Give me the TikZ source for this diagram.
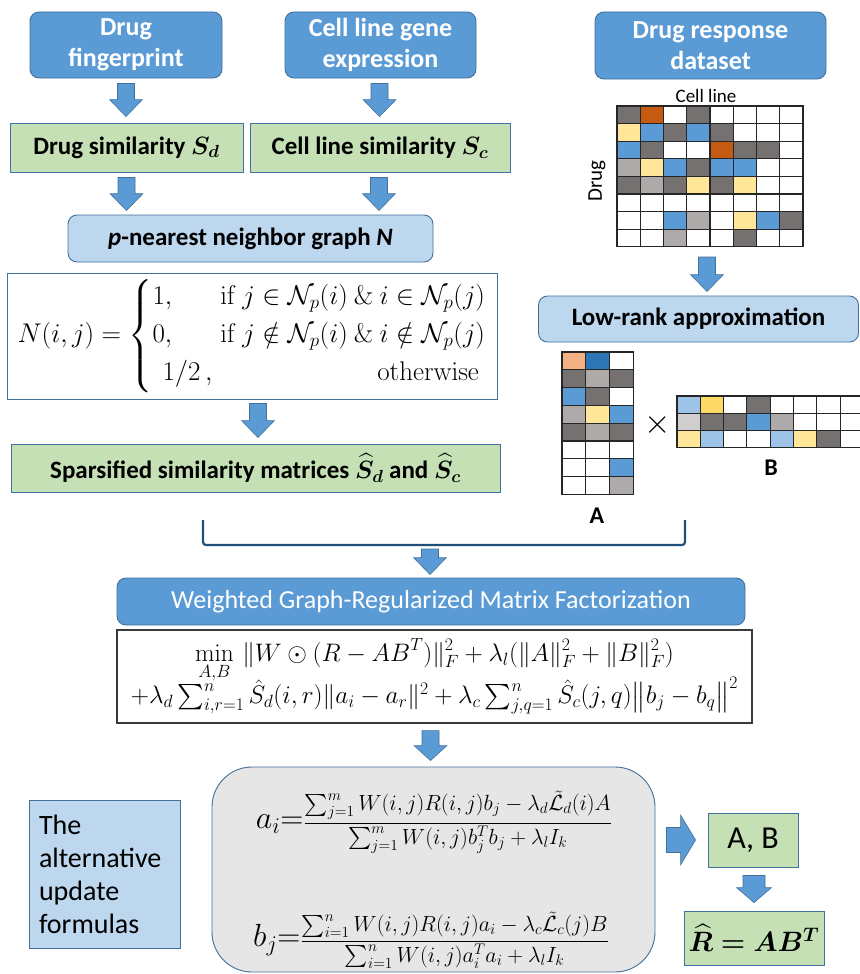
\RequirePackage{fix-cm}
\documentclass[tikz,border=0pt]{standalone}
\usepackage{amsmath,amssymb}
\usepackage{bm}
\usepackage[no-math]{fontspec}
\setmainfont{Carlito}
\usetikzlibrary{calc}
\definecolor{dkb}{HTML}{5B9BD5}
\definecolor{bord}{HTML}{41719C}
\definecolor{ltb}{HTML}{BDD7EE}
\definecolor{grn}{HTML}{C5E0B4}
\definecolor{gry}{HTML}{E7E6E6}
\definecolor{brk}{HTML}{1F4E79}
\definecolor{fbord}{HTML}{3A3A3A}
\definecolor{gline}{HTML}{262626}
\definecolor{dg}{HTML}{767171}
\definecolor{lg}{HTML}{AEAAAA}
\definecolor{yl}{HTML}{FFE699}
\definecolor{bl}{HTML}{5B9BD5}
\definecolor{cor}{HTML}{C55A11}
\definecolor{pc}{HTML}{F4B183}
\definecolor{db}{HTML}{2E75B6}
\definecolor{lb}{HTML}{9DC3E6}
\definecolor{gd}{HTML}{FFD966}
\definecolor{vg}{HTML}{D0CECE}
\definecolor{w}{HTML}{FFFFFF}
\newcommand\blkdn[5]{\draw[blk] let \p1=(#1), \p2=(#2) in
  (\x1-#3,\y1) -- (\x1+#3,\y1) -- (\x1+#3,\y2+#5) -- (\x1+#4,\y2+#5) -- (\x1,\y2)
  -- (\x1-#4,\y2+#5) -- (\x1-#3,\y2+#5) -- cycle;}
\newcommand\blkrt[5]{\draw[blk] let \p1=(#1), \p2=(#2) in
  (\x1,\y1-#3) -- (\x1,\y1+#3) -- (\x2-#5,\y1+#3) -- (\x2-#5,\y1+#4) -- (\x2,\y1)
  -- (\x2-#5,\y1-#4) -- (\x2-#5,\y1-#3) -- cycle;}
\begin{document}
\begin{tikzpicture}[x=1pt,y=-1pt,
  box/.style={draw=bord, line width=0.9pt, inner sep=0pt, align=center},
  dbox/.style={box, fill=dkb, rounded corners=9pt, text=white},
  gbox/.style={box, fill=grn},
  lbox/.style={box, fill=ltb, rounded corners=9pt},
  bfbig/.style={font=\bfseries\fontsize{26}{31}\selectfont},
  bfmid/.style={font=\bfseries\fontsize{25}{29}\selectfont},
  blk/.style={fill=dkb, draw=bord, line width=0.6pt},
  cellbox/.style={draw=gline, line width=1.1pt}]
\useasboundingbox (0,0) rectangle (859,974);
\fill[white] (0,0) rectangle (859,974);

% top row
\node[dbox, bfbig, minimum width=192pt, minimum height=66pt] (df) at (126,45) {Drug\\fingerprint};
\node[dbox, bfbig, minimum width=191pt, minimum height=66pt] (cg) at (380.5,45) {Cell line gene\\expression};
\node[dbox, bfbig, minimum width=231pt, minimum height=67pt] (dr) at (710.5,45.5) {Drug response\\dataset};

% similarity
\node[gbox, bfmid, minimum width=233pt, minimum height=49pt] (ds) at (126.5,147.5) {Drug similarity $\bm{S_d}$};
\node[gbox, bfmid, minimum width=260pt, minimum height=49pt] (cs) at (380,147.5) {Cell line similarity $\bm{S_c}$};

\node[lbox, bfmid, minimum width=365pt, minimum height=47pt] (pn) at (250.5,238.5) {\textit{p}-nearest neighbor graph \textit{N}};

\node[box, fill=white, minimum width=490pt, minimum height=126pt, font=\fontsize{27}{30}\selectfont] (nf) at (252,336)
 {$N(i,j)=\left\{\begin{array}{@{}l@{\hspace{8pt}}r@{}}
   1, & \mathrm{if}\ j\in\mathcal{N}_p(i)\ \&\ i\in\mathcal{N}_p(j)\\[8pt]
   0, & \mathrm{if}\ j\notin\mathcal{N}_p(i)\ \&\ i\notin\mathcal{N}_p(j)\\[8pt]
   \hspace{10pt}1/2\,, & \mathrm{otherwise}\hspace{6pt}
  \end{array}\right.$};

\node[gbox, bfmid, minimum width=489pt, minimum height=48pt] (sp) at (255.5,468) {Sparsified similarity matrices $\bm{\widehat{S}_d}$ and $\bm{\widehat{S}_c}$};

% bracket
\coordinate (bl1) at (203,520);
\coordinate (bl2) at (685,520);
\draw[brk, line width=2.2pt, rounded corners=3pt] (bl1) -- (bl1 |- 0,545) -- (bl2 |- 0,545) -- (bl2);
\coordinate (bm) at (430,549);

\node[dbox, font=\fontsize{26}{30}\selectfont, minimum width=628pt, minimum height=47pt] (wg) at (431,601.5) {Weighted Graph-Regularized Matrix Factorization};

\node[box, draw=fbord, line width=1.3pt, fill=white, minimum width=635pt, minimum height=93pt, font=\fontsize{25.3}{28}\selectfont] (of) at (434.5,676.5)
 {$\displaystyle\min_{A,B}\,\|W\odot(R-AB^T)\|_F^2+\lambda_l(\|A\|_F^2+\|B\|_F^2)$\\[-7pt]
  $+\lambda_d\sum_{i,r=1}^n\hat{S}_d(i,r)\|a_i-a_r\|^2+\lambda_c\sum_{j,q=1}^n\hat{S}_c(j,q)\big\|b_j-b_q\big\|^2$};

% update box
\node[box, fill=gry, rounded corners=40pt, minimum width=443pt, minimum height=205pt] (up) at (433.5,869.5) {};
\node[inner sep=0pt, font=\fontsize{22}{25}\selectfont] (ai) at (434,822)
 {$\mbox{\fontsize{32}{34}\selectfont$a_i{=}$}\displaystyle\frac{\sum_{j=1}^m W(i,j)R(i,j)b_j-\lambda_d\tilde{\mathcal{L}}_d(i)A}{\sum_{j=1}^m W(i,j)b_j^Tb_j+\lambda_lI_k}$};
\node[inner sep=0pt, font=\fontsize{22}{25}\selectfont] (bj) at (431,940)
 {$\mbox{\fontsize{32}{34}\selectfont$b_j{=}$}\displaystyle\frac{\sum_{i=1}^n W(i,j)R(i,j)a_i-\lambda_c\tilde{\mathcal{L}}_c(j)B}{\sum_{i=1}^n W(i,j)a_i^Ta_i+\lambda_lI_k}$};

\node[box, fill=ltb, minimum height=148pt, text width=131pt, inner xsep=10pt, align=left, font=\fontsize{28}{33}\selectfont] (alt) at (104.5,874) {The\\alternative\\update\\formulas};

\node[gbox, font=\fontsize{32}{36}\selectfont, minimum width=90pt, minimum height=54pt] (ab) at (753,840) {A, B};
\node[gbox, font=\fontsize{28}{32}\selectfont, minimum width=140pt, minimum height=54pt] (rh) at (754,938) {$\bm{\widehat{R}=AB^T}$};

% right column
\node[font=\fontsize{19}{21}\selectfont] (cl) at (706,96) {Cell line};
\node[font=\fontsize{21}{24}\selectfont, rotate=90] (drl) at (597,181) {Drug};
\foreach \row [count=\r from 0] in {{dg,cor,w,dg,w,w,w,w},{yl,bl,dg,bl,dg,w,w,w},{bl,dg,w,w,cor,dg,dg,w},{lg,yl,bl,dg,bl,bl,w,w},{dg,lg,dg,yl,dg,yl,w,w},{w,w,w,w,w,w,w,w},{w,w,bl,lg,w,yl,bl,dg},{w,w,lg,w,w,dg,w,w}} {
  \foreach \c [count=\k from 0] in \row {
    \filldraw[cellbox, fill=\c] (617+\k*23.25, 106+\r*17.6) rectangle ++(23.25,17.6);
  }
}
\coordinate (gridb) at (707,247);

\node[lbox, font=\bfseries\fontsize{25}{28}\selectfont, minimum width=320pt, minimum height=46pt] (lr) at (698.5,319) {Low-rank approximation};

\foreach \row [count=\r from 0] in {{pc,db,w},{dg,lg,dg},{bl,dg,w},{lg,yl,bl},{dg,lg,dg},{w,w,w},{w,w,bl},{w,w,lg}} {
  \foreach \c [count=\k from 0] in \row {
    \filldraw[cellbox, fill=\c] (562+\k*23.7, 352+\r*17.8) rectangle ++(23.7,17.8);
  }
}
\foreach \row [count=\r from 0] in {{lb,gd,w,dg,w,w,w,w},{vg,dg,dg,bl,lg,w,w,w},{yl,lb,w,w,lb,yl,dg,w}} {
  \foreach \c [count=\k from 0] in \row {
    \filldraw[cellbox, fill=\c] (677+\k*23.3, 396+\r*17.3) rectangle ++(23.3,17.3);
  }
}
\node[font=\fontsize{34}{36}\selectfont] (times) at (658,425) {$\times$};
\node[font=\bfseries\fontsize{24}{28}\selectfont] (blab) at (771,468) {B};
\node[font=\bfseries\fontsize{24}{28}\selectfont] (alab) at (597,516) {A};

% block arrows
\blkdn{$(df.south)+(0,5)$}{$(df.south |- ds.north)+(0,-6)$}{8.5pt}{16.5pt}{17pt}
\blkdn{$(cg.south)+(-1,5)$}{$(cg.south |- cs.north)+(-1,-6)$}{8.5pt}{16.5pt}{17pt}
\blkdn{$(ds.south)+(0,5)$}{$(ds.south |- pn.north)+(0,-4)$}{8.5pt}{16.5pt}{17pt}
\blkdn{$(cs.south)+(-1,5)$}{$(cs.south |- pn.north)+(-1,-4)$}{8.5pt}{16.5pt}{17pt}
\blkdn{$(nf.south)+(6,4)$}{$(nf.south |- sp.north)+(6,-6)$}{8.5pt}{16.5pt}{17pt}
\blkdn{bm}{$(bm |- wg.north)+(0,-3)$}{8.5pt}{16.5pt}{17pt}
\blkdn{$(of.south)+(-4,7)$}{$(of.south |- up.north)+(-4,-6)$}{8.5pt}{16.5pt}{15pt}
\blkdn{$(gridb)+(0,10)$}{$(gridb |- lr.north)+(0,-4)$}{8.5pt}{16.5pt}{17pt}
\blkrt{$(up.east |- ab.west)+(11,0)$}{$(ab.west)+(-12,0)$}{12.5pt}{25pt}{15pt}
\blkdn{$(ab.south)+(1,8)$}{$(ab.south |- rh.north)+(1,-8)$}{11pt}{17.5pt}{15pt}
\end{tikzpicture}
\end{document}
